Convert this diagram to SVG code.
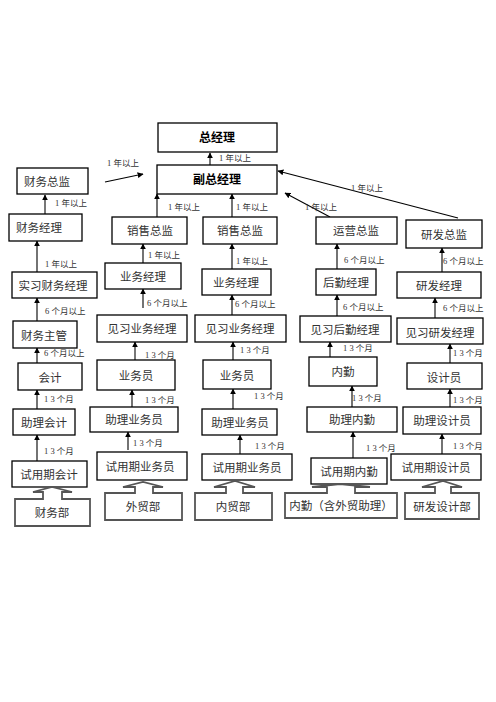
<svg xmlns="http://www.w3.org/2000/svg" width="496" height="702" viewBox="0 0 496 702">
<style>
.box{fill:#fff;stroke:#000;stroke-width:1.3}
.dept{fill:#fff;stroke:#555;stroke-width:1.8}
.t{font-family:"Liberation Serif","Noto Sans CJK SC",serif;font-size:11.5px;fill:#333;text-anchor:middle}
.b{font-family:"Liberation Sans","Noto Sans CJK SC",sans-serif;font-size:12px;font-weight:bold;fill:#000;text-anchor:middle}
.l{font-family:"Liberation Serif","Noto Sans CJK SC",serif;font-size:8.5px;fill:#333}
.c{stroke:#000;stroke-width:1.1;fill:none;marker-end:url(#ah)}
.g{stroke:#777;stroke-width:2;fill:none;marker-end:url(#ag)}
</style>
<defs>
<marker id="ah" viewBox="0 0 10 10" refX="9" refY="5" markerWidth="6" markerHeight="6" orient="auto" markerUnits="userSpaceOnUse"><path d="M0,0 L10,5 L0,10 Z" fill="#000"/></marker>
<marker id="ag" viewBox="0 0 10 10" refX="9" refY="5" markerWidth="6" markerHeight="6" orient="auto" markerUnits="userSpaceOnUse"><path d="M0,0 L10,5 L0,10 Z" fill="#000"/></marker>
</defs>
<rect width="496" height="702" fill="#fff"/>
<g id="connectors">
<line class="g" x1="210" y1="165" x2="210" y2="153"/>
<line class="c" x1="105" y1="182" x2="143" y2="174"/>
<line class="g" x1="45" y1="214" x2="45" y2="195"/>
<line class="c" x1="157" y1="217" x2="157" y2="194"/>
<line class="c" x1="232" y1="217" x2="232" y2="194"/>
<line class="c" x1="330" y1="217" x2="285" y2="193"/>
<line class="c" x1="458" y1="218" x2="278" y2="171"/>
<line class="c" x1="37" y1="272" x2="37" y2="241"/>
<line class="c" x1="143" y1="263" x2="143" y2="244"/>
<line class="c" x1="232" y1="269" x2="232" y2="244"/>
<line class="c" x1="337" y1="269" x2="337" y2="244"/>
<line class="c" x1="442" y1="272" x2="442" y2="248"/>
<line class="c" x1="37" y1="321" x2="37" y2="298"/>
<line class="c" x1="143" y1="308" x2="143" y2="289"/>
<line class="c" x1="232" y1="315" x2="232" y2="295"/>
<line class="c" x1="337" y1="316" x2="337" y2="295"/>
<line class="g" x1="435" y1="318" x2="435" y2="298"/>
<line class="c" x1="37" y1="363" x2="37" y2="348"/>
<line class="g" x1="135" y1="360" x2="135" y2="342"/>
<line class="c" x1="233" y1="360" x2="233" y2="342"/>
<line class="g" x1="330" y1="357" x2="330" y2="342"/>
<line class="g" x1="450" y1="363" x2="450" y2="344"/>
<line class="c" x1="37" y1="409" x2="37" y2="390"/>
<line class="c" x1="132" y1="407" x2="132" y2="390"/>
<line class="c" x1="233" y1="409" x2="233" y2="389"/>
<line class="c" x1="352" y1="407" x2="352" y2="386"/>
<line class="g" x1="450" y1="407" x2="450" y2="389"/>
<line class="c" x1="37" y1="461" x2="37" y2="435"/>
<line class="c" x1="128" y1="450" x2="128" y2="432"/>
<line class="g" x1="240" y1="454" x2="240" y2="435"/>
<line class="c" x1="353" y1="458" x2="353" y2="432"/>
<line class="c" x1="442" y1="454" x2="442" y2="434"/>
</g>
<g id="labels">
<text class="l" x="219" y="161">1 年以上</text>
<text class="l" x="107" y="166">1 年以上</text>
<text class="l" x="55" y="206">1 年以上</text>
<text class="l" x="168" y="210">1 年以上</text>
<text class="l" x="236" y="210">1 年以上</text>
<text class="l" x="305" y="210">1 年以上</text>
<text class="l" x="351" y="191">1 年以上</text>
<text class="l" x="45" y="267">1 年以上</text>
<text class="l" x="148" y="258">1 年以上</text>
<text class="l" x="236" y="264">1 年以上</text>
<text class="l" x="344" y="263">6 个月以上</text>
<text class="l" x="443" y="264">6 个月以上</text>
<text class="l" x="45" y="314">6 个月以上</text>
<text class="l" x="147" y="306">6 个月以上</text>
<text class="l" x="235" y="307">6 个月以上</text>
<text class="l" x="343" y="310">6 个月以上</text>
<text class="l" x="443" y="311">6 个月以上</text>
<text class="l" x="44" y="356">6 个月以上</text>
<text class="l" x="145" y="358">1 3 个月</text>
<text class="l" x="240" y="353">1 3 个月</text>
<text class="l" x="343" y="351">1 3 个月</text>
<text class="l" x="453" y="356">1 3 个月</text>
<text class="l" x="44" y="402">1 3 个月</text>
<text class="l" x="145" y="403">1 3 个月</text>
<text class="l" x="254" y="399">1 3 个月</text>
<text class="l" x="352" y="401">1 3 个月</text>
<text class="l" x="453" y="403">1 3 个月</text>
<text class="l" x="44" y="454">1 3 个月</text>
<text class="l" x="133" y="446">1 3 个月</text>
<text class="l" x="255" y="449">1 3 个月</text>
<text class="l" x="366" y="451">1 3 个月</text>
<text class="l" x="453" y="449">1 3 个月</text>
</g>
<g id="n-zjl"><rect class="box" x="158" y="123" width="119" height="29"/><text class="b" x="217" y="142">总经理</text></g>
<g id="n-fzjl"><rect class="box" x="157" y="165" width="120" height="29"/><text class="b" x="217" y="184">副总经理</text></g>
<g id="n-cwzj"><rect class="box" x="17" y="168" width="71" height="26"/><text class="t" x="47" y="186">财务总监</text></g>
<g id="n-cwjl"><rect class="box" x="9" y="214" width="73" height="27"/><text class="t" x="39" y="232">财务经理</text></g>
<g id="n-xszj1"><rect class="box" x="112" y="217" width="75" height="27"/><text class="t" x="150" y="235">销售总监</text></g>
<g id="n-xszj2"><rect class="box" x="203" y="217" width="74" height="27"/><text class="t" x="240" y="235">销售总监</text></g>
<g id="n-yyzj"><rect class="box" x="316" y="217" width="81" height="27"/><text class="t" x="356" y="235">运营总监</text></g>
<g id="n-yfzj"><rect class="box" x="406" y="220" width="76" height="28"/><text class="t" x="444" y="239">研发总监</text></g>
<g id="n-sxcwjl"><rect class="box" x="12" y="272" width="85" height="26"/><text class="t" x="53" y="290">实习财务经理</text></g>
<g id="n-ywjl1"><rect class="box" x="105" y="263" width="76" height="26"/><text class="t" x="143" y="281">业务经理</text></g>
<g id="n-ywjl2"><rect class="box" x="202" y="269" width="69" height="26"/><text class="t" x="236" y="287">业务经理</text></g>
<g id="n-hqjl"><rect class="box" x="316" y="269" width="60" height="26"/><text class="t" x="346" y="287">后勤经理</text></g>
<g id="n-yfjl"><rect class="box" x="397" y="272" width="84" height="26"/><text class="t" x="439" y="290">研发经理</text></g>
<g id="n-cwzg"><rect class="box" x="13" y="321" width="64" height="27"/><text class="t" x="44" y="340">财务主管</text></g>
<g id="n-jxywjl1"><rect class="box" x="97" y="315" width="90" height="27"/><text class="t" x="142" y="333">见习业务经理</text></g>
<g id="n-jxywjl2"><rect class="box" x="195" y="315" width="91" height="27"/><text class="t" x="240" y="333">见习业务经理</text></g>
<g id="n-jxhqjl"><rect class="box" x="300" y="316" width="91" height="26"/><text class="t" x="345" y="334">见习后勤经理</text></g>
<g id="n-jxyfjl"><rect class="box" x="397" y="318" width="86" height="26"/><text class="t" x="440" y="337">见习研发经理</text></g>
<g id="n-kj"><rect class="box" x="18" y="363" width="64" height="27"/><text class="t" x="50" y="382">会计</text></g>
<g id="n-ywy1"><rect class="box" x="97" y="360" width="78" height="30"/><text class="t" x="136" y="380">业务员</text></g>
<g id="n-ywy2"><rect class="box" x="203" y="360" width="68" height="29"/><text class="t" x="237" y="380">业务员</text></g>
<g id="n-nq"><rect class="box" x="309" y="357" width="68" height="29"/><text class="t" x="343" y="376">内勤</text></g>
<g id="n-sjy"><rect class="box" x="407" y="363" width="75" height="26"/><text class="t" x="444" y="382">设计员</text></g>
<g id="n-zlkj"><rect class="box" x="13" y="409" width="62" height="26"/><text class="t" x="44" y="427">助理会计</text></g>
<g id="n-zlywy1"><rect class="box" x="90" y="407" width="88" height="25"/><text class="t" x="134" y="424">助理业务员</text></g>
<g id="n-zlywy2"><rect class="box" x="202" y="409" width="75" height="26"/><text class="t" x="240" y="427">助理业务员</text></g>
<g id="n-zlnq"><rect class="box" x="307" y="407" width="90" height="25"/><text class="t" x="352" y="424">助理内勤</text></g>
<g id="n-zlsjy"><rect class="box" x="403" y="407" width="78" height="27"/><text class="t" x="442" y="425">助理设计员</text></g>
<g id="n-syqkj"><rect class="box" x="12" y="461" width="75" height="26"/><text class="t" x="49" y="479">试用期会计</text></g>
<g id="n-syqywy1"><rect class="box" x="97" y="452" width="90" height="28"/><text class="t" x="140" y="471">试用期业务员</text></g>
<g id="n-syqywy2"><rect class="box" x="202" y="454" width="90" height="26"/><text class="t" x="247" y="472">试用期业务员</text></g>
<g id="n-syqnq"><rect class="box" x="311" y="458" width="76" height="26"/><text class="t" x="349" y="476">试用期内勤</text></g>
<g id="n-syqsjy"><rect class="box" x="391" y="454" width="90" height="26"/><text class="t" x="436" y="472">试用期设计员</text></g>
<g id="d-cwb"><path class="dept" d="M15,499 H43 V492 H33 L52,487 L72,492 H62 V499 H90 V526 H15 Z"/><text class="t" x="52" y="517">财务部</text></g>
<g id="d-wmb"><path class="dept" d="M105,493 H135 V487 H123 L143,482 L163,487 H153 V493 H182 V520 H105 Z"/><text class="t" x="143" y="511">外贸部</text></g>
<g id="d-nmb"><path class="dept" d="M195,493 H226 V487 H214 L235,481 L255,487 H243 V493 H272 V520 H195 Z"/><text class="t" x="233" y="511">内贸部</text></g>
<g id="d-nq"><path class="dept" d="M285,493 H327 V487 H312 L340,484 L370,487 H355 V493 H397 V518 H285 Z"/><text class="t" x="341" y="510">内勤（含外贸助理）</text></g>
<g id="d-yfsjb"><path class="dept" d="M405,493 H435 V487 H422 L443,481 L462,487 H451 V493 H479 V519 H405 Z"/><text class="t" x="442" y="511">研发设计部</text></g>
</svg>
